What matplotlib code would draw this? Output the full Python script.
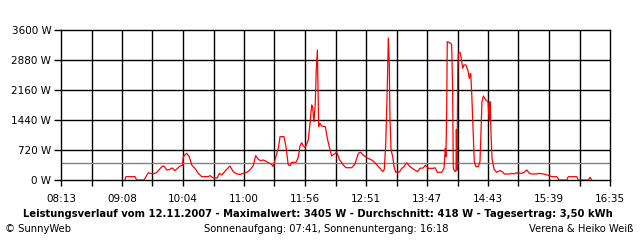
import numpy as np
import matplotlib
matplotlib.use("Agg")
import matplotlib.pyplot as plt

# time of day in minutes after midnight, power in W
minutes = [551.5, 552.4, 560.7, 562.2, 568.9, 572.8, 577.1, 580.5, 585.1, 587.2,
           589.7, 592.7, 594.5, 597.2, 599.1, 601.8, 604.1, 604.8, 607.9, 610.3,
           612.5, 615.5, 618.5, 621.7, 627.7, 629.2, 632.3, 635.9, 637.8, 639.9,
           644.5, 647.5, 650.5, 653.7, 656.7, 659.7, 662.8, 665.8, 668.8, 671.0,
           673.4, 675.6, 678.0, 680.5, 682.6, 685.7, 687.1, 689.3, 691.7, 693.3,
           696.9, 698.7, 700.8, 702.4, 703.9, 707.9, 710.0, 711.5, 713.1, 714.6,
           716.1, 717.7, 719.1, 720.7, 722.2, 723.1, 724.3, 725.5, 726.4, 727.4,
           728.0, 728.6, 729.8, 731.4, 734.7, 736.5, 738.3, 740.5, 742.9, 745.1,
           747.5, 751.1, 753.6, 758.8, 761.8, 764.9, 767.0, 769.4, 772.5, 777.1,
           779.5, 782.2, 784.7, 787.2, 788.6, 789.9, 791.4, 792.3, 793.2, 793.8,
           794.8, 796.3, 797.5, 799.1, 802.3, 804.6, 806.6, 809.1, 812.1, 815.2,
           818.8, 821.3, 824.3, 826.1, 828.9, 833.4, 835.0, 837.1, 841.1, 843.2,
           844.4, 845.0, 845.7, 846.2, 848.1, 850.2, 851.1, 851.7, 853.3, 854.2,
           854.5, 855.1, 855.8, 856.3, 857.8, 858.7, 860.3, 861.5, 863.3, 865.4,
           866.3, 867.6, 868.5, 870.0, 870.9, 872.5, 874.6, 876.1, 877.0, 877.9,
           879.2, 881.4, 883.5, 884.1, 884.7, 885.3, 886.2, 887.1, 889.0, 891.4,
           894.4, 896.5, 898.4, 903.6, 905.4, 907.3, 909.1, 914.3, 916.4, 918.9,
           921.3, 923.4, 928.0, 930.1, 934.0, 937.7, 941.7, 946.3, 948.4, 955.4,
           956.9, 964.6, 966.0, 975.2, 976.7, 978.2]
watts = [0, 80, 80, 0, 0, 175, 145, 180, 320, 335,
         240, 255, 290, 225, 270, 335, 350, 560, 640, 560,
         360, 280, 160, 80, 80, 105, 50, 50, 160, 120,
         255, 335, 200, 145, 135, 160, 185, 240, 345, 585,
         495, 465, 480, 450, 415, 375, 320, 545, 760, 1040,
         1040, 800, 360, 345, 425, 425, 545, 815, 895, 815,
         775, 865, 960, 1360, 1800, 1745, 1400, 1840, 2640, 3120,
         2160, 1280, 1360, 1295, 1280, 1000, 800, 575, 625, 670,
         495, 360, 295, 295, 385, 640, 665, 600, 535, 480,
         430, 350, 280, 200, 255, 840, 2280, 3405, 2760, 1480,
         720, 560, 320, 185, 190, 280, 320, 415, 320, 265,
         200, 280, 290, 355, 280, 280, 295, 185, 185, 280,
         760, 560, 1760, 3320, 3300, 3255, 2160, 280, 200, 225,
         1215, 240, 2655, 3040, 3065, 2975, 2680, 2760, 2760, 2600,
         2440, 2560, 2120, 1080, 440, 320, 320, 440, 1120, 1880,
         2015, 1920, 1880, 1600, 1440, 1880, 1120, 520, 255, 185,
         225, 200, 145, 145, 160, 145, 170, 160, 185, 240,
         160, 145, 145, 160, 145, 120, 80, 80, 0, 0,
         80, 80, 0, 0, 65, 0]

average = 418
x_labels = ["08:13", "09:08", "10:04", "11:00", "11:56", "12:51",
            "13:47", "14:43", "15:39", "16:35"]
y_ticks = [0, 720, 1440, 2160, 2880, 3600]
t_start, t_end = 493, 995

title = ("Leistungsverlauf vom 12.11.2007 - Maximalwert: 3405 W - "
         "Durchschnitt: 418 W - Tagesertrag: 3,50 kWh")
sun = "Sonnenaufgang: 07:41, Sonnenuntergang: 16:18"

plt.rcParams["font.family"] = ["DejaVu Sans"]

fig = plt.figure(figsize=(6.4, 2.4), dpi=100)
ax = fig.add_axes([61 / 640, 60 / 240, 549 / 640, 150 / 240])

grid_x = np.linspace(t_start, t_end, 19)
for gx in grid_x[1:-1]:
    ax.axvline(gx, color="black", lw=1.0, zorder=1)
for gy in y_ticks[1:-1]:
    ax.axhline(gy, color="black", lw=1.0, zorder=1)

ax.axhline(average, color="#808080", lw=1.0, zorder=2)
ax.plot(minutes, watts, color="red", lw=0.9, zorder=3)

ax.set_xlim(t_start, t_end)
ax.set_ylim(0, 3600)
ax.set_xticks(grid_x[::2])
ax.set_xticklabels(x_labels)
ax.set_xticks(grid_x[1::2], minor=True)
ax.set_yticks(y_ticks)
ax.set_yticklabels([f"{v} W" for v in y_ticks])
ax.tick_params(axis="both", which="both", direction="out", color="black",
               labelsize=7.5, width=1.0)
ax.tick_params(axis="x", which="both", length=4, pad=6)
ax.tick_params(axis="y", length=5, pad=2)
for s in ax.spines.values():
    s.set_color("black")
    s.set_linewidth(1.0)

fig.text(0.497, 1 - 214 / 240, title, ha="center", va="center",
         fontsize=7.2, fontweight="bold")
fig.text(5 / 640, 1 - 229 / 240, "\u00a9 SunnyWeb", ha="left", va="center",
         fontsize=7.2)
fig.text(326 / 640, 1 - 229 / 240, sun, ha="center", va="center", fontsize=7.2)
fig.text(633 / 640, 1 - 229 / 240, "Verena & Heiko Weiß", ha="right",
         va="center", fontsize=7.2)

fig.savefig("out.png", dpi=100, facecolor="white")
